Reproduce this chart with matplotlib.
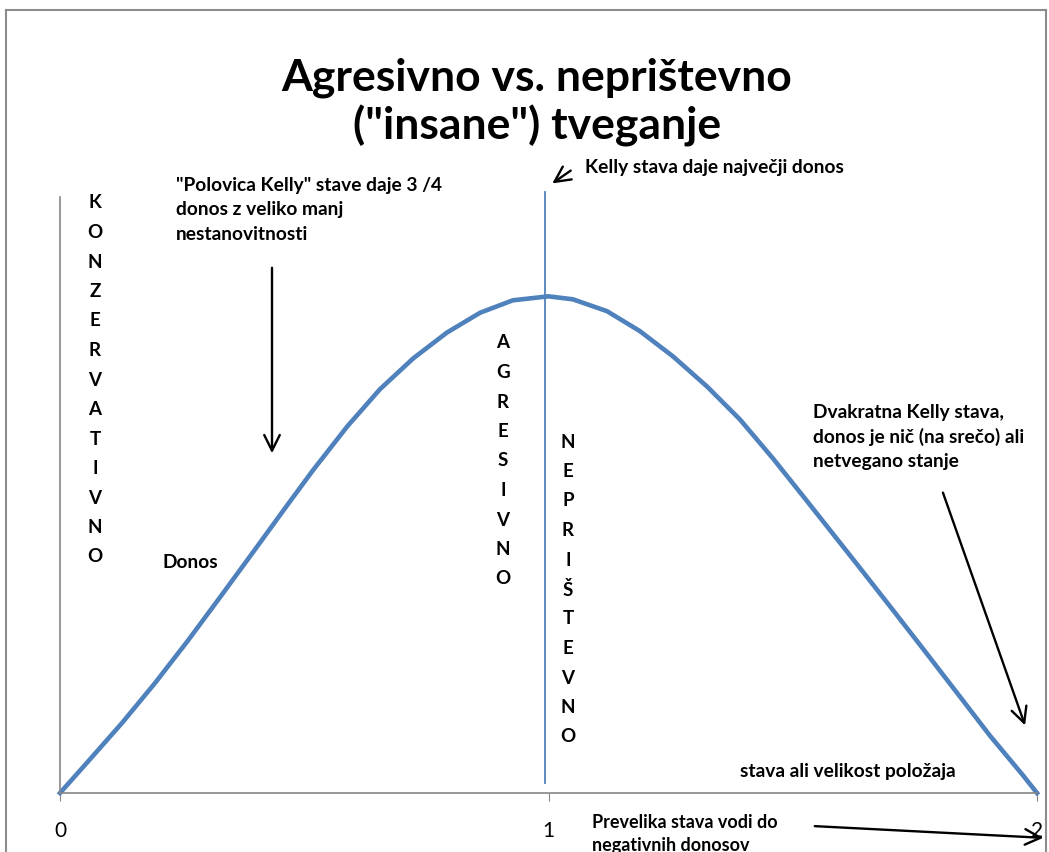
import matplotlib
matplotlib.use("Agg")
import matplotlib.pyplot as plt
from matplotlib.lines import Line2D
from matplotlib.patches import FancyArrowPatch

# curve points (bet size vs. growth, peak normalised to 1)
stava = [0.0, 0.057, 0.127, 0.195, 0.262, 0.332, 0.399, 0.467, 0.518,
         0.588, 0.655, 0.723, 0.792, 0.860, 0.927, 1.0,
         1.050, 1.120, 1.187, 1.255, 1.325, 1.392, 1.460, 1.529,
         1.632, 1.699, 1.767, 1.836, 1.904, 1.971, 2.0]
donos = [0.0, 0.063, 0.141, 0.222, 0.307, 0.400, 0.490, 0.582, 0.650,
         0.738, 0.813, 0.875, 0.927, 0.967, 0.992, 1.0,
         0.994, 0.970, 0.930, 0.879, 0.818, 0.752, 0.673, 0.588,
         0.460, 0.376, 0.290, 0.202, 0.115, 0.036, 0.0]
x_ticks = [0, 1, 2]
kelly = 0.993

title = 'Agresivno vs. neprištevno\n("insane") tveganje'
words_left = "KONZERVATIVNO"
words_mid = "AGRESIVNO"
words_right = "NEPRIŠTEVNO"

plt.rcParams["font.family"] = ["Lato", "DejaVu Sans"]

W, H = 1049, 852
fig = plt.figure(figsize=(W / 100, H / 100), dpi=100)


def fx(px):
    return px / W


def fy(py):
    return 1 - py / H


# outer chart frame
for xs, ys in (([6, 1046], [10, 10]), ([6, 6], [10, 852]), ([1046, 1046], [10, 852])):
    fig.add_artist(Line2D([fx(v) for v in xs], [fy(v) for v in ys],
                          color="#8c8c8c", lw=1.5))

ax = fig.add_axes([fx(60), fy(793), fx(1037) - fx(60), (793 - 197) / H])
ax.plot(stava, donos, color="#4f81bd", lw=3.3, solid_joinstyle="round", clip_on=False)
ax.plot([kelly, kelly], [0.02, 1.21], color="#4f81bd", lw=1.3, clip_on=False)

ax.set_xlim(0, 2)
ax.set_ylim(0, 1.2)
ax.set_xticks(x_ticks)
ax.set_xticklabels([str(t) for t in x_ticks], fontsize=15)
ax.set_yticks([])
ax.tick_params(axis="x", direction="out", length=6, color="#868686", pad=14)
for s in ("top", "right"):
    ax.spines[s].set_visible(False)
for s in ("left", "bottom"):
    ax.spines[s].set_color("#868686")
    ax.spines[s].set_linewidth(1.2)

fig.text(fx(537), fy(102), title, ha="center", va="center", fontsize=32,
         fontweight="bold", linespacing=1.2)

bold = dict(fontweight="bold", fontsize=13.8, color="black")


def stacked(word, x, y0, step=29.5):
    for i, ch in enumerate(word):
        fig.text(fx(x), fy(y0 + i * step), ch, ha="center", va="center",
                 fontweight="bold", fontsize=13.5)


stacked(words_left, 95, 203)
stacked(words_mid, 503, 343)
stacked(words_right, 568, 442)

fig.text(fx(176), fy(210), '"Polovica Kelly" stave daje 3 /4\ndonos z veliko manj\nnestanovitnosti',
         ha="left", va="center", linespacing=1.5, **bold)
fig.text(fx(585), fy(167), "Kelly stava daje največji donos", ha="left", va="center", **bold)
fig.text(fx(813), fy(437), "Dvakratna Kelly stava,\ndonos je nič (na srečo) ali\nnetvegano stanje",
         ha="left", va="center", linespacing=1.5, **bold)
fig.text(fx(162), fy(563), "Donos", ha="left", va="center", **bold)
fig.text(fx(740), fy(772), "stava ali velikost položaja", ha="left", va="center", **bold)
# second line runs off the bottom edge, as in the original
fig.text(fx(592), fy(814), "Prevelika stava vodi do\nnegativnih donosov", ha="left", va="top",
         linespacing=1.45, fontweight="bold", fontsize=13)

arrows = [((573, 169), (550, 185)),
          ((272, 265), (272, 456)),
          ((942, 490), (1026, 728)),
          ((812, 826), (1046, 838))]
for (x0, y0), (x1, y1) in arrows:
    fig.add_artist(FancyArrowPatch(
        (fx(x0), fy(y0)), (fx(x1), fy(y1)), transform=fig.transFigure,
        arrowstyle="->", mutation_scale=28, lw=1.7, color="black"))

fig.savefig("out.png", dpi=100)
